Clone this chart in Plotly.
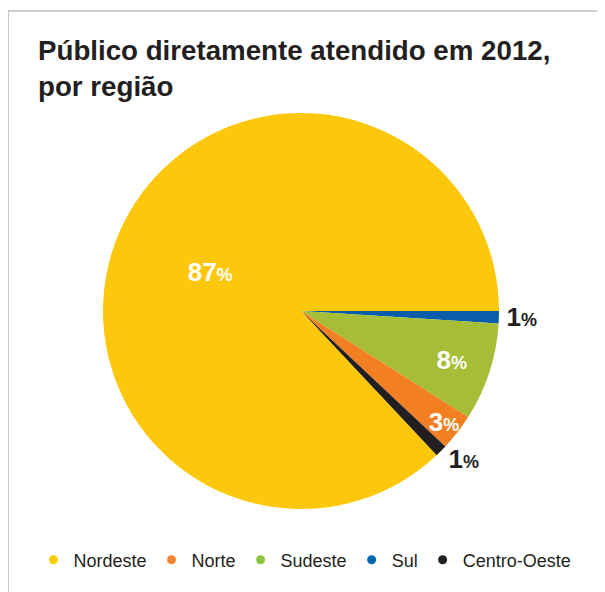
import plotly.graph_objects as go

# Data (slice order as drawn clockwise from 3 o'clock)
slice_regions = ["Sul", "Sudeste", "Norte", "Centro-Oeste", "Nordeste"]
slice_values = [1, 8, 3, 1, 87]
slice_colors = ["#0B5DAA", "#A5BD37", "#F28023", "#231F20", "#FDC70C"]

# Legend order
legend_regions = ["Nordeste", "Norte", "Sudeste", "Sul", "Centro-Oeste"]
legend_colors = ["#FFCB05", "#F58634", "#8DC63F", "#0067B1", "#231F20"]

title_text = "Público diretamente atendido em 2012,<br>por região"

# page body adds an 8px margin, so the figure is drawn 8px smaller
W, H = 597, 584
FONT = "Liberation Sans, Arial, Helvetica, sans-serif"

label_text = [f"<b>{v}</b><span style='font-size:18px'><b>%</b></span>" for v in slice_values]
text_pos = ["outside", "inside", "inside", "outside", "inside"]
text_colors = ["#231F20", "white", "white", "#231F20", "white"]

fig = go.Figure()
fig.add_trace(go.Pie(
    labels=slice_regions,
    values=slice_values,
    sort=False,
    direction="clockwise",
    rotation=90,
    marker=dict(colors=slice_colors, line=dict(width=0)),
    text=label_text,
    textinfo="text",
    textposition=text_pos,
    insidetextorientation="horizontal",
    textfont=dict(family=FONT, size=26, color=text_colors),
    showlegend=False,
    hoverinfo="label+percent",
    domain=dict(x=[64 / W, 524 / W], y=[1 - 501 / H, 1 - 105 / H]),
))

for name, col in zip(legend_regions, legend_colors):
    fig.add_trace(go.Scatter(
        x=[None], y=[None], mode="markers", name=name,
        marker=dict(symbol="circle", size=9, color=col),
        showlegend=True,
    ))

fig.update_layout(
    width=W, height=H,
    margin=dict(l=0, r=0, t=0, b=0),
    paper_bgcolor="white",
    plot_bgcolor="white",
    xaxis=dict(visible=False),
    yaxis=dict(visible=False),
    uniformtext=dict(minsize=26, mode="show"),
    title=dict(
        text="<b>" + title_text + "</b>",
        x=30 / W, xanchor="left",
        y=1 - 52 / H, yanchor="top",
        font=dict(family=FONT, size=27.7, color="#231F20"),
    ),
    legend=dict(
        orientation="h",
        x=298 / W, xanchor="center",
        y=1 - 552 / H, yanchor="middle",
        font=dict(family=FONT, size=18, color="#231F20"),
        itemwidth=30,
        traceorder="normal",
    ),
    shapes=[dict(
        type="rect", xref="paper", yref="paper",
        x0=0 / W, x1=1.05, y0=-0.05, y1=1 - 3 / H,
        line=dict(color="#9A9A9A", width=1), fillcolor="rgba(0,0,0,0)",
    )],
)

fig.write_html("out.html")
